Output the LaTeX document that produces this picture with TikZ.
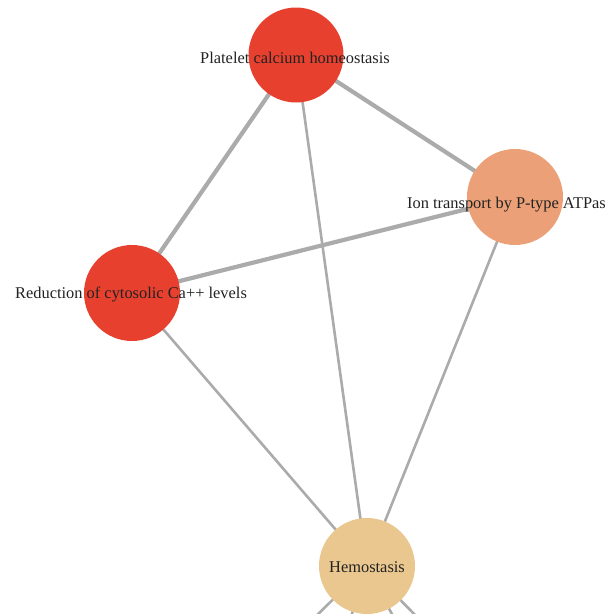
\documentclass[tikz,border=0pt]{standalone}
\usepackage{fontspec}
\setmainfont{Liberation Serif}
\definecolor{nodered}{HTML}{E8402F}
\definecolor{nodesalmon}{HTML}{EBA077}
\definecolor{nodetan}{HTML}{E9C78F}
\definecolor{edgegray}{HTML}{ABABAB}
\definecolor{labelcol}{HTML}{222222}
\begin{document}
\begin{tikzpicture}[x=1pt,y=-1pt,
  bubble/.style={circle,inner sep=0pt,minimum size=96pt,draw=none},
  lbl/.style={anchor=base west,inner sep=0pt,text=labelcol,font=\fontsize{16.4}{18}\selectfont},
  thickedge/.style={draw=edgegray,line width=4.2pt},
  thinedge/.style={draw=edgegray,line width=2.6pt}]
\useasboundingbox (0,0) rectangle (608,614);
\clip (0,0) rectangle (608,614);
% node positions
\node[bubble] (plat) at (296,55) {};
\node[bubble] (ion) at (515,197) {};
\node[bubble] (red) at (132,293) {};
\node[bubble] (hemo) at (367,566) {};
\coordinate (b1) at (310,622);
\coordinate (b2) at (350,620);
\coordinate (b3) at (396,622);
\coordinate (b4) at (420,620);
% edges
\draw[thickedge] (plat.center) -- (red.center);
\draw[thickedge] (plat.center) -- (ion.center);
\draw[thickedge] (red.center) -- (ion.center);
\draw[thinedge] (plat.center) -- (hemo.center);
\draw[thinedge] (red.center) -- (hemo.center);
\draw[thinedge] (ion.center) -- (hemo.center);
\draw[thinedge] (hemo.center) -- (b1);
\draw[thinedge] (hemo.center) -- (b2);
\draw[thinedge] (hemo.center) -- (b3);
\draw[thinedge] (hemo.center) -- (b4);
% circles
\fill[nodered] (plat) circle (47.5);
\fill[nodesalmon] (ion) circle (48);
\fill[nodered] (red) circle (48);
\fill[nodetan] (hemo) circle (48);
% labels
\node[lbl] (platlbl) at (200,63) {Platelet calcium homeostasis};
\node[lbl] (ionlbl) at (407,208) {Ion transport by P-type ATPas};
\node[lbl] (redlbl) at (15,298) {Reduction of cytosolic Ca++ levels};
\node[lbl] (hemolbl) at (329,572) {Hemostasis};
\end{tikzpicture}
\end{document}
